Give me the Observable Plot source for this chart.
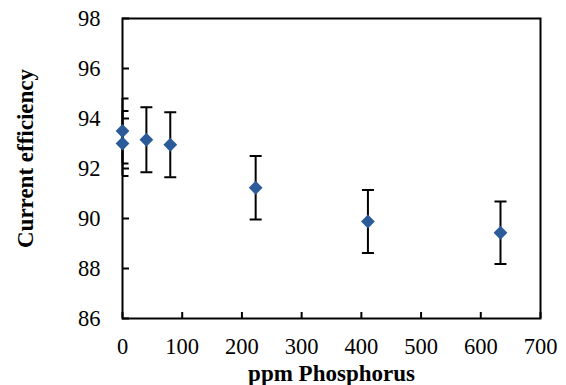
<!DOCTYPE html>
<html>
<head>
<meta charset="utf-8">
<script src="https://cdn.jsdelivr.net/npm/d3@7"></script>
<script src="https://cdn.jsdelivr.net/npm/@observablehq/plot@0.6"></script>
<style>
  html, body { margin: 0; padding: 0; background: #fff; }
  #chart svg, #chart svg text { font-family: "Liberation Serif", "Times New Roman", serif !important; }
  g[aria-label="markers"] { filter: drop-shadow(1.5px 2px 2px rgba(0,0,0,0.45)); }
</style>
</head>
<body>
<div id="chart"></div>
<script>
const ppm = [0, 0, 40, 80, 223, 411, 633];
const efficiency = [93.5, 93.0, 93.15, 92.95, 91.23, 89.88, 89.43];
const errorBar = [1.3, 1.3, 1.3, 1.3, 1.27, 1.26, 1.25];
const xTicks = [0, 100, 200, 300, 400, 500, 600, 700];
const yTicks = [86, 88, 90, 92, 94, 96, 98];
const xLabel = "ppm Phosphorus";
const yLabel = "Current efficiency";

const data = ppm.map((p, i) => ({
  ppm: p,
  eff: efficiency[i],
  lo: efficiency[i] - errorBar[i],
  hi: efficiency[i] + errorBar[i]
}));

const capSymbol = {
  draw(context) {
    context.moveTo(-6, 0);
    context.lineTo(6, 0);
  }
};

const chart = Plot.plot({
  width: 566,
  height: 385,
  marginLeft: 122,
  marginRight: 26,
  marginTop: 18,
  marginBottom: 67,
  style: {fontFamily: "Liberation Serif, serif", fontSize: "22px", color: "black", background: "white"},
  x: {domain: [0, 700]},
  y: {domain: [86, 98]},
  marks: [
    Plot.axisX(xTicks, {anchor: "bottom", tickSize: -6, tickPadding: 26, strokeWidth: 2, label: null, fontSize: 22.5}),
    Plot.axisY(yTicks, {anchor: "left", tickSize: -7, tickPadding: 29, strokeWidth: 2, label: null, fontSize: 22.5}),
    Plot.frame({stroke: "black", strokeWidth: 2}),
    Plot.ruleX(data, {x: "ppm", y1: "lo", y2: "hi", stroke: "black", strokeWidth: 2}),
    Plot.dot(data, {x: "ppm", y: "hi", symbol: capSymbol, fill: "none", stroke: "black", strokeWidth: 2, clip: true}),
    Plot.dot(data, {x: "ppm", y: "lo", symbol: capSymbol, fill: "none", stroke: "black", strokeWidth: 2, clip: true}),
    Plot.dot(data, {x: "ppm", y: "eff", symbol: "diamond2", r: 6.2, fill: "#2B5C99", stroke: "none", ariaLabel: "markers"}),
    Plot.text([xLabel], {frameAnchor: "bottom", textAnchor: "middle", lineAnchor: "bottom", dy: 62, text: d => d, fontWeight: "bold", fontSize: 23}),
    Plot.text([yLabel], {frameAnchor: "left", textAnchor: "middle", lineAnchor: "bottom", dx: -90, dy: -10, rotate: -90, text: d => d, fontWeight: "bold", fontSize: 23})
  ]
});
document.getElementById("chart").appendChild(chart);
</script>
</body>
</html>
